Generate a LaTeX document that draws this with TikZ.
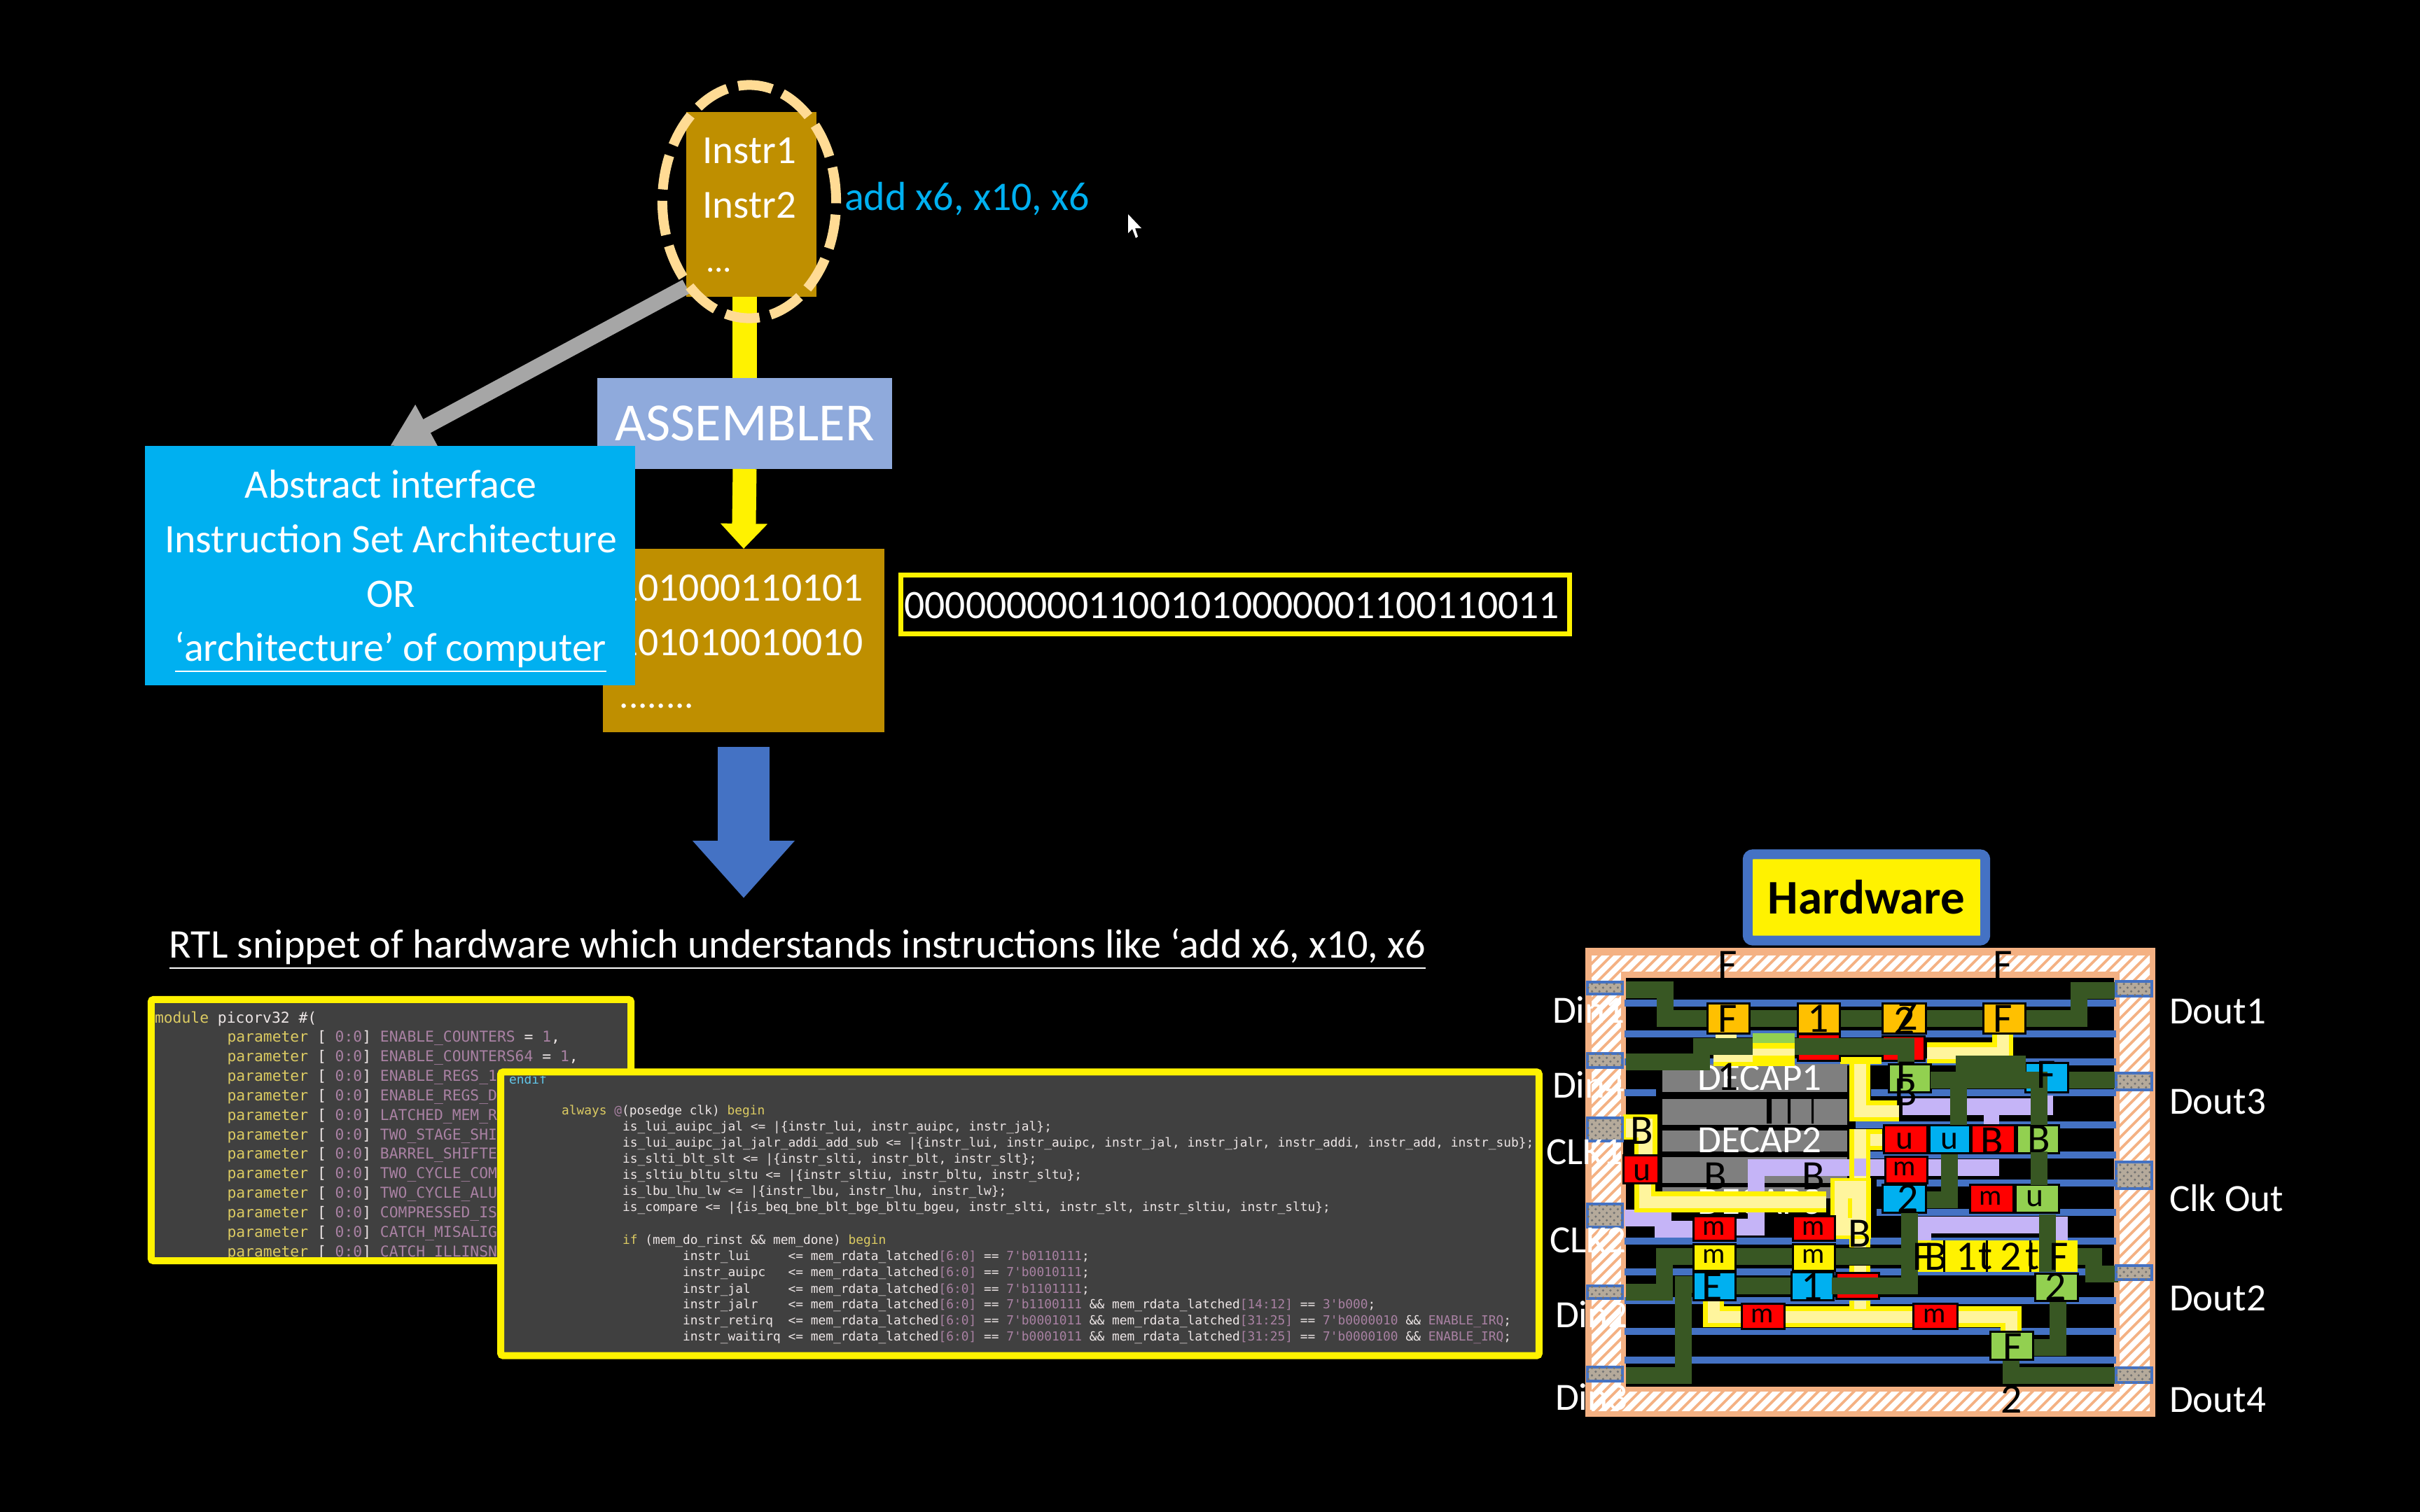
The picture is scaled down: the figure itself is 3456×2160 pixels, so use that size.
\documentclass[tikz,border=0pt]{standalone}
\usepackage{fontspec}
\setmainfont{Carlito}
\setmonofont{DejaVu Sans Mono}
\usetikzlibrary{arrows.meta,shapes.geometric,patterns}
\def\px{0.28453pt}
\definecolor{gold}{HTML}{BF8F00}
\definecolor{asmblue}{HTML}{8FAADC}
\definecolor{isablue}{HTML}{00B0F0}
\definecolor{midblue}{HTML}{4472C4}
\definecolor{railblue}{HTML}{4472C4}
\definecolor{dashcol}{HTML}{FFDB94}
\definecolor{salmon}{HTML}{F4B183}
\definecolor{codebg}{HTML}{404040}
\definecolor{codekw}{HTML}{DCCB62}
\definecolor{codefg}{HTML}{EDE6E6}
\definecolor{codenum}{HTML}{A981A3}
\definecolor{codecy}{HTML}{62C6E8}
\definecolor{decapgray}{HTML}{7F7F7F}
\definecolor{routegreen}{HTML}{385723}
\definecolor{lilac}{HTML}{C5B4F7}
\definecolor{pale}{HTML}{FFF59D}
\definecolor{cellgreen}{HTML}{92D050}
\definecolor{cellorange}{HTML}{FFC000}
\definecolor{padfill}{HTML}{B5AA9B}
\newcommand\ckw[1]{\textcolor{codekw}{#1}}
\newcommand\cfg[1]{\textcolor{codefg}{#1}}
\newcommand\cnum[1]{\textcolor{codenum}{#1}}
\newcommand\cel[5]{\filldraw[cellbox,fill=#5] (#1,#2) rectangle (#3,#4);}
\newcommand\pad[4]{\filldraw[padbox] (#1,#2) rectangle (#3,#4); \fill[padtex] (#1,#2) rectangle (#3,#4);}
\newcommand\yr[1]{\draw[yo] #1; \draw[yi] #1;}
\newcommand\pline[3]{\node[cone] (p#1) at (324.5,#2) {\ckw{parameter} \cfg{[} \cnum{0:0}\cfg{]} \cnum{#3}};}
\tikzset{
 txt/.style={inner sep=0,outer sep=0,text=white},
 cone/.style={anchor=west,inner sep=0,outer sep=0,font=\ttfamily\fontsize{6.07}{7}\selectfont,text=codefg},
 ctwo/.style={anchor=west,inner sep=0,outer sep=0,font=\ttfamily\fontsize{5.08}{6}\selectfont,text=codefg},
 codebox/.style={draw=yellow,fill=codebg,line width=10*\px,rounded corners=1pt,inner sep=0,outer sep=0},
 cellbox/.style={draw=black,line width=3*\px},
 padbox/.style={draw=railblue,line width=4*\px,fill=padfill},
 padtex/.style={pattern=crosshatch dots,pattern color=black!55},
 rail/.style={draw=railblue,line width=10*\px},
 gr/.style={draw=routegreen,line width=24*\px},
 lil/.style={draw=lilac,line width=24*\px},
 yo/.style={draw=yellow,line width=30*\px},
 yi/.style={draw=pale,line width=17*\px},
 gl/.style={inner sep=0,outer sep=0,text=black,font=\fontsize{17}{20}\selectfont},
 gu/.style={inner sep=0,outer sep=0,text=black,font=\fontsize{13.5}{16}\selectfont},
 gm/.style={inner sep=0,outer sep=0,text=black,font=\fontsize{11.5}{14}\selectfont},
 pin/.style={inner sep=0,outer sep=0,text=white,anchor=west,font=\fontsize{15.65}{18}\selectfont},
}
\begin{document}
\begin{tikzpicture}[x=0.01cm,y=-0.01cm]
\useasboundingbox (0,0) rectangle (3456,2160);
\fill[black] (0,0) rectangle (3456,2160);

% ---------- top flow
\node[fill=gold,inner sep=0,outer sep=0,minimum width=186*\px,minimum height=264*\px] (instr) at (1073,292) {};
\node[fill=asmblue,inner sep=0,outer sep=0,minimum width=421*\px,minimum height=130*\px,text=white,font=\fontsize{21.8}{24}\selectfont] (asm) at (1063.5,605) {ASSEMBLER};
\node[fill=gold,inner sep=0,outer sep=0,minimum width=402*\px,minimum height=262*\px] (bin) at (1062,915) {};
\node[txt,anchor=east,font=\fontsize{16.4}{19}\selectfont] (b1) at (1233,840) {101000110101};
\node[txt,anchor=east,font=\fontsize{16.4}{19}\selectfont] (b2) at (1233,918) {101010010010};
\node[txt,font=\fontsize{15}{19}\selectfont] (b3) at (938,1009) {........};
\draw[yellow,line width=34*\px] (asm.north |- instr.south) -- (asm.north);
\draw[yellow,line width=34*\px,-{Triangle[length=10.2pt,width=18.5pt]}] (asm.south) -- (bin.north);
\draw[color=black!35,line width=22*\px,-{Triangle[length=17pt,width=18.5pt]}] ([yshift=4.2pt]instr.south west) -- (557,637) coordinate (isaTop);
\node[fill=isablue,inner sep=0,outer sep=0,minimum width=700*\px,minimum height=342*\px] (isa) at (557,808) {};
\node[txt,font=\fontsize{16.45}{19}\selectfont] (i1) at (558,692) {Abstract interface};
\node[txt,font=\fontsize{16.45}{19}\selectfont] (i2) at (558,770) {Instruction Set Architecture};
\node[txt,font=\fontsize{16.45}{19}\selectfont] (i3) at (558,849) {OR};
\node[txt,font=\fontsize{16.45}{19}\selectfont] (i4) at (558,932) {\underline{‘architecture’ of computer}};
\node[txt,font=\fontsize{16.2}{19}\selectfont] (n1) at (1070,215) {Instr1};
\node[txt,font=\fontsize{16.2}{19}\selectfont] (n2) at (1070,293) {Instr2};
\node[txt,anchor=west,font=\fontsize{14}{19}\selectfont] (n3) at (1008,386) {...};
\node[draw=dashcol,line width=14*\px,dash pattern=on 14pt off 4.6pt,ellipse,inner sep=0,outer sep=0,minimum width=248*\px,minimum height=333*\px] (loop) at (1070,288) {};
\node[txt,text=isablue,anchor=west,font=\fontsize{16.5}{19}\selectfont] (addt) at (1206,284) {add x6, x10, x6};
\fill[white] (1611,306) -- (1611,333) -- (1617,327) -- (1622,340) -- (1625,338) -- (1621,326) -- (1630,326) -- cycle;
\draw[draw=yellow,line width=7*\px] (1286,821.5) rectangle (2241,905.5);
\node[txt,font=\fontsize{16.4}{19}\selectfont] (word) at (1759,865) {00000000011001010000001100110011};

% ---------- blue arrow and caption
\node[txt,font=\fontsize{16.55}{19}\selectfont] (rtl) at (1139,1356) {\underline{RTL snippet of hardware which understands instructions like ‘add x6, x10, x6}};
\draw[midblue,line width=73*\px,-{Triangle[length=23.3pt,width=40pt]}] ([yshift=-6pt]bin.south) -- (bin.south |- 0,1283);

% ---------- code box 1
\node[codebox,minimum width=685*\px,minimum height=373*\px] (codeA) at (558.5,1614.5) {};
\begin{scope}
\clip (216,1434) rectangle (901,1795);
\node[cone] (m0) at (221,1456) {\ckw{module} picorv32 \#(};
\pline{1}{1483}{ENABLE\_COUNTERS \cfg{=} \cnum{1}\cfg{,}}
\pline{2}{1511}{ENABLE\_COUNTERS64 \cfg{=} \cnum{1}\cfg{,}}
\pline{3}{1539}{ENABLE\_REGS\_1}
\pline{4}{1567}{ENABLE\_REGS\_D}
\pline{5}{1595}{LATCHED\_MEM\_R}
\pline{6}{1623}{TWO\_STAGE\_SHI}
\pline{7}{1650}{BARREL\_SHIFTE}
\pline{8}{1678}{TWO\_CYCLE\_COM}
\pline{9}{1706}{TWO\_CYCLE\_ALU}
\pline{10}{1734}{COMPRESSED\_IS}
\pline{11}{1762}{CATCH\_MISALIG}
\pline{12}{1790}{CATCH\_ILLINSN}
\end{scope}

% ---------- code box 2
\node[codebox,minimum width=1482*\px,minimum height=405*\px] (codeB) at (1456.5,1734) {};
\begin{scope}
\clip (716,1537) rectangle (2197,1936);
\node[ctwo,text=codecy] (c0) at (727,1542) {endif};
\node[ctwo] (c1) at (802,1588) {\ckw{always} \cnum{@}(posedge clk) \ckw{begin}};
\node[ctwo] (c2) at (889,1611) {is\_lui\_auipc\_jal <= |\{instr\_lui, instr\_auipc, instr\_jal\};};
\node[ctwo] (c3) at (889,1634) {is\_lui\_auipc\_jal\_jalr\_addi\_add\_sub <= |\{instr\_lui, instr\_auipc, instr\_jal, instr\_jalr, instr\_addi, instr\_add, instr\_sub\};};
\node[ctwo] (c4) at (889,1657) {is\_slti\_blt\_slt <= |\{instr\_slti, instr\_blt, instr\_slt\};};
\node[ctwo] (c5) at (889,1680) {is\_sltiu\_bltu\_sltu <= |\{instr\_sltiu, instr\_bltu, instr\_sltu\};};
\node[ctwo] (c6) at (889,1703) {is\_lbu\_lhu\_lw <= |\{instr\_lbu, instr\_lhu, instr\_lw\};};
\node[ctwo] (c7) at (889,1726) {is\_compare <= |\{is\_beq\_bne\_blt\_bge\_bltu\_bgeu, instr\_slti, instr\_slt, instr\_sltiu, instr\_sltu\};};
\node[ctwo] (c8) at (889,1773) {\ckw{if} (mem\_do\_rinst \&\& mem\_done) \ckw{begin}};
\node[ctwo] (c9) at (975,1796) {instr\_lui\ \ \ \ \ <= mem\_rdata\_latched\cnum{[6:0]} == \cnum{7'b0110111};};
\node[ctwo] (c10) at (975,1819) {instr\_auipc\ \ \ <= mem\_rdata\_latched\cnum{[6:0]} == \cnum{7'b0010111};};
\node[ctwo] (c11) at (975,1843) {instr\_jal\ \ \ \ \ <= mem\_rdata\_latched\cnum{[6:0]} == \cnum{7'b1101111};};
\node[ctwo] (c12) at (975,1865) {instr\_jalr\ \ \ \ <= mem\_rdata\_latched\cnum{[6:0]} == \cnum{7'b1100111} \&\& mem\_rdata\_latched\cnum{[14:12]} == \cnum{3'b000};};
\node[ctwo] (c13) at (975,1888) {instr\_retirq\ \ <= mem\_rdata\_latched\cnum{[6:0]} == \cnum{7'b0001011} \&\& mem\_rdata\_latched\cnum{[31:25]} == \cnum{7'b0000010} \&\& \cnum{ENABLE\_IRQ};};
\node[ctwo] (c14) at (975,1911) {instr\_waitirq <= mem\_rdata\_latched\cnum{[6:0]} == \cnum{7'b0001011} \&\& mem\_rdata\_latched\cnum{[31:25]} == \cnum{7'b0000100} \&\& \cnum{ENABLE\_IRQ};};
\end{scope}

% ---------- Hardware label
\node[draw=midblue,fill=yellow,line width=14*\px,rounded corners=2pt,inner sep=0,outer sep=0,minimum width=339*\px,minimum height=123*\px,text=black,font=\bfseries\fontsize{19.6}{23}\selectfont] (hw) at (2665.5,1282) {Hardware};

% ---------- chip frame
\fill[salmon] (2264,1354) rectangle (3078,2024);
\begin{scope}
\clip (2273,1365) rectangle (3070,2015);
\foreach \s in {1550,1567,...,3120}
  \draw[white,line width=8*\px] (\s,2040) -- ({\s+720},1320);
\end{scope}
\fill[salmon] (2315,1388) rectangle (3027,1988);
\fill[black] (2322,1397) rectangle (3019,1981);

% rails
\foreach \ya/\xa in {1433/2320,1477/2320,1517/2320,1561/2672,1607/2650,1650/2665,1690/2680,1732/2680,1773/2320,1817/2320,1858/2320,1902/2320,1943/2320}
  \draw[rail] (\xa,\ya) -- (3022,\ya);
\draw[rail] (2320,1561) -- (2365,1561);

% decaps
\fill[decapgray] (2374,1520) rectangle (2638,1560);
\fill[decapgray] (2374,1570) rectangle (2638,1607);
\fill[decapgray] (2374,1615) rectangle (2638,1645);
\fill[decapgray] (2374,1653) rectangle (2638,1690);
\fill[decapgray] (2374,1696) rectangle (2638,1712);
\fill[black] (2523,1570) rectangle (2530,1605) (2553,1570) rectangle (2557,1605) (2587,1570) rectangle (2590,1605);
\node[txt,font=\fontsize{15.65}{18}\selectfont] (d1) at (2513,1540) {DECAP1};
\node[txt,font=\fontsize{15.65}{18}\selectfont] (d2) at (2513,1629) {DECAP2};
\node[txt,font=\fontsize{15.65}{18}\selectfont] (d3) at (2513,1717) {DECAP3};

% lilac routes
\draw[lil] (2320,1740) -- (2375,1740) -- (2375,1756) -- (2420,1756);
\draw[lil] (2478,1753) -- (2508,1753) -- (2508,1668) -- (2855,1668);
\draw[lil] (2717,1581) -- (2932,1581);
\draw[lilac,line width=22*\px] (2844,1590) -- (2844,1607);
\draw[lilac,line width=8*\px] (2928,1565) -- (2928,1581);
\draw[lil] (2746,1772) -- (2746,1750) -- (2941,1750) -- (2941,1772);

% yellow routes
\fill[yellow] (2318,1592) rectangle (2367,1650);
\fill[pale] (2322,1598) rectangle (2360,1625);
\fill[pale] (2340,1620) rectangle (2360,1650);
\fill[black] (2318,1628) rectangle (2334,1650);
\yr{(2349,1690) -- (2349,1717) -- (2608,1717)}
\yr{(2656,1512) -- (2656,1587) -- (2712,1587)}
\draw[yellow,line width=10*\px] (2628,1515) -- (2687,1515);
\yr{(2656,1628) -- (2688,1628)}
\yr{(2656,1613) -- (2656,1782)}
\fill[yellow] (2614,1683) rectangle (2672,1770);
\fill[pale] (2620,1687) rectangle (2665,1765);
\draw[yellow,line width=6*\px] (2642,1712) -- (2642,1740);
\fill[lilac] (2648,1655) rectangle (2665,1680);
\yr{(2656,1808) -- (2656,1817)}
\yr{(2447,1508) -- (2563,1508)}
\fill[pale] (2450,1475) rectangle (2480,1483);
\yr{(2752,1504) -- (2860,1504) -- (2860,1476)}
\yr{(2447,1858) -- (2447,1881) -- (2872,1881) -- (2872,1902)}
\yr{(2656,1858) -- (2656,1870)}

% green routes below the cells
\draw[gr] (2322,1414) -- (2378,1414) -- (2378,1455) -- (2969,1455) -- (2969,1415) -- (3020,1415);
\draw[gr] (2322,1846) -- (2377,1846) -- (2377,1795) -- (2715,1795);
\draw[gr] (2470,1837) -- (2560,1837);
\draw[gr] (2322,1965) -- (2404,1965) -- (2404,1835) -- (2420,1835);
\draw[gr] (2784,1648) -- (2784,1714) -- (2750,1714);
\draw[gr] (2967,1795) -- (2990,1795) -- (2990,1820) -- (3025,1820);
\draw[gr] (2939,1858) -- (2939,1925) -- (2903,1925);
\draw[gr] (2872,1942) -- (2872,1965) -- (3020,1965);
\draw[gr] (2953,1543) -- (3022,1543);

% cells
\cel{2438}{1433}{2498}{1476}{cellorange}
\cel{2567}{1433}{2627}{1476}{cellorange}
\cel{2688}{1433}{2750}{1476}{cellorange}
\cel{2832}{1433}{2892}{1476}{cellorange}
\cel{2567}{1477}{2627}{1515}{red}
\cel{2688}{1480}{2748}{1515}{red}
\cel{2892}{1518}{2953}{1560}{isablue}
\cel{2690}{1607}{2752}{1647}{red}
\cel{2755}{1607}{2813}{1647}{isablue}
\cel{2815}{1607}{2877}{1647}{red}
\cel{2880}{1607}{2940}{1647}{cellgreen}
\cel{2692}{1652}{2752}{1690}{red}
\cel{2688}{1692}{2750}{1732}{isablue}
\cel{2813}{1692}{2875}{1732}{red}
\cel{2878}{1692}{2940}{1732}{cellgreen}
\cel{2318}{1650}{2368}{1690}{red}
\cel{2418}{1737}{2478}{1772}{red}
\cel{2560}{1737}{2620}{1772}{red}
\cel{2418}{1777}{2478}{1815}{yellow}
\cel{2560}{1777}{2620}{1815}{yellow}
\cel{2418}{1817}{2478}{1857}{isablue}
\cel{2558}{1817}{2618}{1857}{isablue}
\cel{2622}{1818}{2683}{1855}{red}
\cel{2487}{1862}{2548}{1898}{red}
\cel{2732}{1862}{2795}{1898}{red}
\fill[yellow] (2715,1772) rectangle (2967,1817);
\draw[black,line width=3*\px] (2776,1772) -- (2776,1817) (2837,1772) -- (2837,1817) (2899,1772) -- (2899,1817);
\cel{2906}{1819}{2967}{1858}{cellgreen}
\cel{2842}{1902}{2903}{1942}{cellgreen}

% green routes above the cells
\draw[gr] (2322,1517) -- (2430,1517) -- (2430,1495) -- (2722,1495) -- (2722,1520);
\fill[cellgreen] (2503,1476) rectangle (2563,1492);
\fill[yellow] (2503,1490) rectangle (2563,1517);
\fill[pale] (2503,1498) rectangle (2563,1508);
\cel{2697}{1520}{2757}{1560}{cellgreen}
\draw[gr] (2757,1543) -- (2912,1543) -- (2912,1607);
\draw[gr] (2797,1543) -- (2797,1607);
\fill[routegreen] (2793,1508) rectangle (2893,1535);
\draw[gr] (2912,1645) -- (2912,1693);
\draw[gr] (2616,1837) -- (2727,1837) -- (2727,1733);
\draw[gr] (2924,1735) -- (2924,1817);

% pads
\pad{2267}{1403}{2317}{1420}
\pad{2267}{1505}{2317}{1525}
\pad{2267}{1597}{2317}{1630}
\pad{2267}{1720}{2317}{1753}
\pad{2267}{1837}{2317}{1855}
\pad{2267}{1953}{2317}{1973}
\pad{3022}{1402}{3073}{1423}
\pad{3022}{1533}{3073}{1557}
\pad{3022}{1660}{3073}{1698}
\pad{3022}{1808}{3073}{1828}
\pad{3022}{1954}{3073}{1975}

% glyphs
\foreach \g/\gx/\gy [count=\n] in {F/2467/1378,F/2860/1378,2/2873/1999,F/2467/1455,1/2597/1455,2/2720/1458,Z/2724/1452,F/2860/1455,1/2468/1538,B/2345/1615,F/2722/1536,B/2722/1560,B/2450/1680,B/2590/1680,B/2656/1762,B/2845/1630,B/2912/1627,2/2725/1712,E/2445/1838,1/2588/1838,F/2745/1795,B/2765/1795,1/2809/1795,t/2835/1795,2/2872/1795,t/2902/1795,F/2940/1795,2/2936/1838,F/2874/1924,F/2922/1535}
  \node[gl] (g\n) at (\gx,\gy) {\g};
\foreach \g/\gx/\gy [count=\n] in {u/2345/1675,u/2720/1630,u/2784/1630,u/2906/1712}
  \node[gu] (h\n) at (\gx,\gy) {\g};
\foreach \gx/\gy [count=\n] in {2720/1670,2843/1712,2448/1755,2590/1755,2448/1795,2590/1795,2517/1880,2763/1880}
  \node[gm] (k\n) at (\gx,\gy) {m};

% pin labels
\node[pin] (din1) at (2217,1443) {Din1};
\node[pin] (din4) at (2217,1550) {Din4};
\node[pin] (clk1) at (2208,1646) {CLK1};
\node[pin] (clk2) at (2213,1772) {CLK2};
\node[pin] (din2) at (2221,1878) {Din2};
\node[pin] (din3) at (2221,1996) {Din3};
\node[pin] (dout1) at (3098,1445) {Dout1};
\node[pin] (dout3) at (3098,1574) {Dout3};
\node[pin] (clkout) at (3098,1712) {Clk Out};
\node[pin] (dout2) at (3098,1855) {Dout2};
\node[pin] (dout4) at (3098,2000) {Dout4};
\end{tikzpicture}
\end{document}
